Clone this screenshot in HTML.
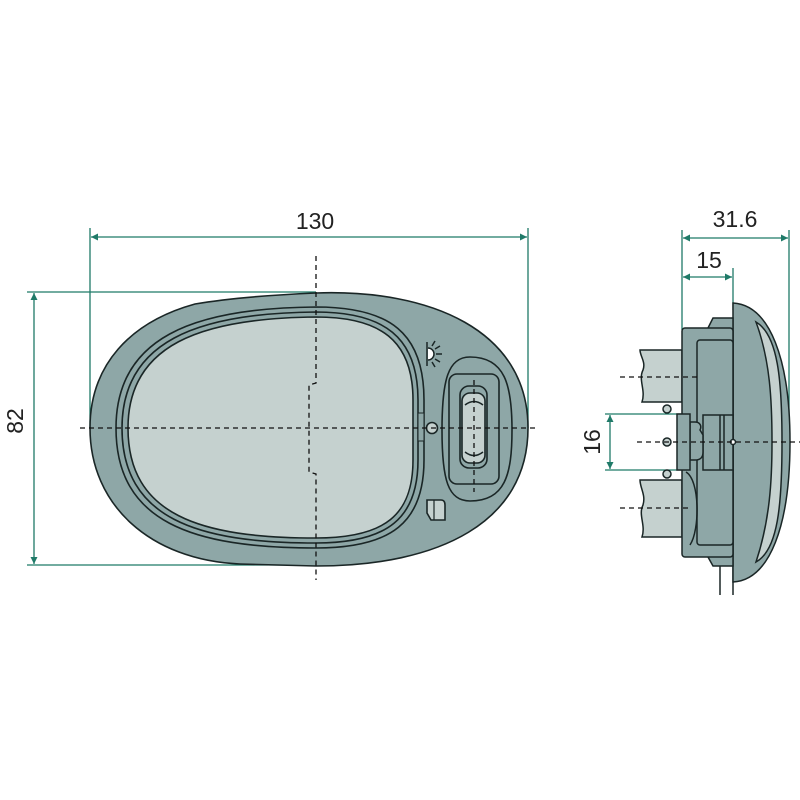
<!DOCTYPE html>
<html><head><meta charset="utf-8"><style>html,body{margin:0;padding:0;background:#fff}svg{display:block}</style></head>
<body>
<svg width="800" height="800" viewBox="0 0 800 800" xmlns="http://www.w3.org/2000/svg" font-family="Liberation Sans, sans-serif">
<defs>
<marker id="a" viewBox="0 0 10 10" refX="10" refY="5" markerWidth="12" markerHeight="7" orient="auto-start-reverse" markerUnits="userSpaceOnUse"><path d="M0,0 L10,5 L0,10 z" fill="#1f7a68"/></marker>
</defs>
<g stroke="#1f7a68" stroke-width="1.3" fill="none">
<line x1="90" y1="228" x2="90" y2="428"/>
<line x1="528" y1="228" x2="528" y2="428"/>
<line x1="91" y1="237" x2="527" y2="237" marker-start="url(#a)" marker-end="url(#a)"/>
<line x1="27" y1="292" x2="316" y2="292"/>
<line x1="27" y1="565" x2="316" y2="565"/>
<line x1="34" y1="293" x2="34" y2="564" marker-start="url(#a)" marker-end="url(#a)"/>
<line x1="682" y1="230" x2="682" y2="330"/>
<line x1="789" y1="230" x2="789" y2="440"/>
<line x1="733" y1="268" x2="733" y2="310"/>
<line x1="683" y1="238" x2="788" y2="238" marker-start="url(#a)" marker-end="url(#a)"/>
<line x1="683" y1="277" x2="732" y2="277" marker-start="url(#a)" marker-end="url(#a)"/>
<line x1="605" y1="414" x2="695" y2="414"/>
<line x1="605" y1="470" x2="695" y2="470"/>
<line x1="610" y1="415" x2="610" y2="469" marker-start="url(#a)" marker-end="url(#a)"/>
</g>
<g fill="#222" font-size="23">
<text x="315" y="229" text-anchor="middle">130</text>
<text x="735" y="227" text-anchor="middle">31.6</text>
<text x="709" y="268" text-anchor="middle">15</text>
<text transform="translate(23,421) rotate(-90)" text-anchor="middle">82</text>
<text transform="translate(600,442) rotate(-90)" text-anchor="middle">16</text>
</g>

<g stroke="#1a2626" stroke-width="1.6">
<path d="M316,293 C430,289 528,330 528,428 C528,522 440,566 316,566 L240,564 C150,560 90,505 90,428 C90,365 130,322 195,304 C230,298 270,295 316,293 Z" fill="#8ea7a7"/>
<path d="M316,307 C390,307 424,333 424,400 L424,460 C424,522 392,548 316,548 C192,548 116,522 116,428 C116,338 192,308 316,307Z" fill="#8ea7a7"/>
<path d="M316,312 C384,312 418,337 418,400 L418,460 C418,518 388,543 316,543 C196,543 122,518 122,428 C122,342 196,313 316,312Z" fill="#8ea7a7"/>
<path d="M316,317 C380,317 413,340 413,400 L413,460 C413,515 385,538 316,538 C200,538 128,515 128,428 C128,345 200,318 316,317Z" fill="#c5d1cf"/>
<path d="M470,357 C505,357 512,385 512,430 C512,475 505,501 470,501 C448,501 442,480 442,430 C442,380 448,357 470,357 Z" fill="#8ea7a7"/>
<rect x="449" y="374" width="50" height="110" rx="8" fill="#8ea7a7"/>
<rect x="460" y="386" width="27" height="82" rx="9" fill="#8ea7a7"/>
<rect x="462" y="393" width="23" height="70" rx="8" fill="#c5d1cf"/>
<rect x="418" y="413" width="6" height="28" fill="#8ea7a7" stroke-width="1"/>
<circle cx="432" cy="428" r="5.5" fill="#c5d1cf"/>
<path d="M427,500 L441,500 C444,500 445,502 445,505 L445,520 L431,520 L427,513 Z" fill="#c5d1cf"/>
<line x1="434" y1="500" x2="434" y2="520" stroke-width="1.2"/>
</g>
<g stroke="#1a2626" stroke-width="1.5" fill="none">
<path d="M465,405 Q474,398 483,405"/><path d="M465,452 Q474,459 483,452"/>
<path d="M427,342 L427,366"/>
<path d="M428,348 A6,6 0 0 1 428,360" fill="#fff"/>
<path d="M432,346 L435,341 M435,349 L440,346 M436,354 L442,354 M435,359 L440,362 M432,362 L435,367"/>
</g>
<g stroke="#111" stroke-width="1.3" stroke-dasharray="5,4" fill="none">
<line x1="80" y1="428" x2="535" y2="428"/>
<path d="M316,256 L316,383 L309,385 L309,472 L316,474 L316,580"/>
<line x1="474" y1="380" x2="474" y2="492"/>
</g>

<g stroke="#1a2626" stroke-width="1.5">
<path d="M640,350 L682,350 L682,402 L642,402 C646,390 638,380 643,370 C646,362 640,356 640,350Z" fill="#c5d1cf"/>
<path d="M640,480 L682,480 L682,537 L642,537 C646,525 638,515 643,505 C646,495 640,488 640,480Z" fill="#c5d1cf"/>
<line x1="720" y1="555" x2="720" y2="595" fill="none"/>
<line x1="733" y1="555" x2="733" y2="595" fill="none"/>
<path d="M733,303 C770,305 790,360 790,442 C790,525 770,580 733,582 Z" fill="#8ea7a7"/>
<path d="M756,322 C778,335 782,380 782,442 C782,505 778,550 756,562 C770,520 772,480 772,442 C772,400 770,360 756,322 Z" fill="#c5d1cf"/>
<path d="M708,328 L713,318 L733,318 L733,566 L713,566 L708,557 Z" fill="#8ea7a7"/>
<rect x="682" y="328" width="51" height="229" rx="3" fill="#8ea7a7"/>
<rect x="697" y="340" width="36" height="205" rx="3" fill="#8ea7a7"/>
<rect x="703" y="415" width="30" height="55" fill="#8ea7a7"/>
<line x1="720" y1="415" x2="720" y2="470"/><line x1="724" y1="415" x2="724" y2="470"/>
<path d="M690,422 L695,422 C700,422 702,426 700,430 L703,435 L703,452 C703,458 700,460 695,460 L690,460 Z" fill="#8ea7a7"/>
<rect x="677" y="414" width="13" height="56" fill="#8ea7a7"/>
<circle cx="667" cy="409" r="4" fill="#c5d1cf"/>
<circle cx="667" cy="442" r="4" fill="#c5d1cf"/>
<circle cx="667" cy="474" r="4" fill="#c5d1cf"/>
<path d="M686,472 C700,480 700,530 690,545" fill="none"/>
<circle cx="733" cy="442" r="2.5" fill="#fff"/>
</g>
<g stroke="#111" stroke-width="1.3" stroke-dasharray="5,4" fill="none">
<line x1="620" y1="377" x2="697" y2="377"/>
<line x1="620" y1="508" x2="690" y2="508"/>
<line x1="637" y1="442" x2="800" y2="442"/>
</g>
</svg>
</body></html>
